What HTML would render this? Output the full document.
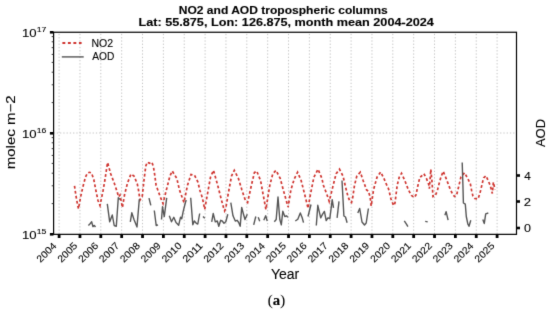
<!DOCTYPE html>
<html><head><meta charset="utf-8"><style>
html,body{margin:0;padding:0;background:#fff;}
svg{display:block;}
text{fill:#000;stroke:#000;stroke-width:0.1px;}
</style></head><body>
<svg width="550" height="313" viewBox="0 0 550 313" font-family="Liberation Sans, sans-serif">
<defs><filter id="bl" color-interpolation-filters="sRGB" x="0" y="0" width="550" height="313" filterUnits="userSpaceOnUse"><feConvolveMatrix order="3" kernelMatrix="0.0100 0.0800 0.0100 0.0800 0.6400 0.0800 0.0100 0.0800 0.0100" edgeMode="none" preserveAlpha="false"/></filter></defs>
<rect width="550" height="313" fill="#fff"/>
<g filter="url(#bl)">
<rect width="550" height="313" fill="#fff"/>
<line x1="59.10" y1="234.0" x2="59.10" y2="32.0" stroke="#bdbdbd" stroke-width="0.9" stroke-dasharray="1.3 1.96"/>
<line x1="79.96" y1="234.0" x2="79.96" y2="32.0" stroke="#bdbdbd" stroke-width="0.9" stroke-dasharray="1.3 1.96"/>
<line x1="100.81" y1="234.0" x2="100.81" y2="32.0" stroke="#bdbdbd" stroke-width="0.9" stroke-dasharray="1.3 1.96"/>
<line x1="121.67" y1="234.0" x2="121.67" y2="32.0" stroke="#bdbdbd" stroke-width="0.9" stroke-dasharray="1.3 1.96"/>
<line x1="142.53" y1="234.0" x2="142.53" y2="32.0" stroke="#bdbdbd" stroke-width="0.9" stroke-dasharray="1.3 1.96"/>
<line x1="163.38" y1="234.0" x2="163.38" y2="32.0" stroke="#bdbdbd" stroke-width="0.9" stroke-dasharray="1.3 1.96"/>
<line x1="184.24" y1="234.0" x2="184.24" y2="32.0" stroke="#bdbdbd" stroke-width="0.9" stroke-dasharray="1.3 1.96"/>
<line x1="205.10" y1="234.0" x2="205.10" y2="32.0" stroke="#bdbdbd" stroke-width="0.9" stroke-dasharray="1.3 1.96"/>
<line x1="225.96" y1="234.0" x2="225.96" y2="32.0" stroke="#bdbdbd" stroke-width="0.9" stroke-dasharray="1.3 1.96"/>
<line x1="246.81" y1="234.0" x2="246.81" y2="32.0" stroke="#bdbdbd" stroke-width="0.9" stroke-dasharray="1.3 1.96"/>
<line x1="267.67" y1="234.0" x2="267.67" y2="32.0" stroke="#bdbdbd" stroke-width="0.9" stroke-dasharray="1.3 1.96"/>
<line x1="288.53" y1="234.0" x2="288.53" y2="32.0" stroke="#bdbdbd" stroke-width="0.9" stroke-dasharray="1.3 1.96"/>
<line x1="309.38" y1="234.0" x2="309.38" y2="32.0" stroke="#bdbdbd" stroke-width="0.9" stroke-dasharray="1.3 1.96"/>
<line x1="330.24" y1="234.0" x2="330.24" y2="32.0" stroke="#bdbdbd" stroke-width="0.9" stroke-dasharray="1.3 1.96"/>
<line x1="351.10" y1="234.0" x2="351.10" y2="32.0" stroke="#bdbdbd" stroke-width="0.9" stroke-dasharray="1.3 1.96"/>
<line x1="371.96" y1="234.0" x2="371.96" y2="32.0" stroke="#bdbdbd" stroke-width="0.9" stroke-dasharray="1.3 1.96"/>
<line x1="392.81" y1="234.0" x2="392.81" y2="32.0" stroke="#bdbdbd" stroke-width="0.9" stroke-dasharray="1.3 1.96"/>
<line x1="413.67" y1="234.0" x2="413.67" y2="32.0" stroke="#bdbdbd" stroke-width="0.9" stroke-dasharray="1.3 1.96"/>
<line x1="434.53" y1="234.0" x2="434.53" y2="32.0" stroke="#bdbdbd" stroke-width="0.9" stroke-dasharray="1.3 1.96"/>
<line x1="455.38" y1="234.0" x2="455.38" y2="32.0" stroke="#bdbdbd" stroke-width="0.9" stroke-dasharray="1.3 1.96"/>
<line x1="476.24" y1="234.0" x2="476.24" y2="32.0" stroke="#bdbdbd" stroke-width="0.9" stroke-dasharray="1.3 1.96"/>
<line x1="497.10" y1="234.0" x2="497.10" y2="32.0" stroke="#bdbdbd" stroke-width="0.9" stroke-dasharray="1.3 1.96"/>
<line x1="53.5" y1="133" x2="516.5" y2="133" stroke="#bdbdbd" stroke-width="0.9" stroke-dasharray="1.3 1.96"/>
<polyline points="74.5,185.8 76,196 77.6,205 78.5,208.8 80.6,197 83,186.5 85.5,177 87.5,173 89.5,172.3 91.5,173 93.8,179.5 96,191 98,200.5 100,205.5 103,191 105,179.5 106.6,168.6 107.6,162.5 110.6,173.5 114.3,183.3 117.2,191.9 118.5,196.8 120,195 122.4,207.5 124.5,195 127.5,183 131,174 134,176 137.3,184 138.5,190 140,200 142.3,196 144,180 145.8,166 147.3,162.2 149.6,163.2 151.8,162.2 153.4,166.5 154.6,174 156.1,185.3 160.7,197.9 163,203.5 166.4,189.9 169.9,176.1 172.2,171 176.8,178.4 179.5,190 184,202.5 187.5,185.3 191,174.5 194.4,175 197.8,181.8 200.1,191 202.4,197.9 204.7,209.4 208.2,189.9 210.5,177.2 213.5,170.3 217.7,185.3 221.2,199.1 223.5,207.5 224.6,210.8 225.8,208 228.1,194.5 231.5,176.1 234.3,170.3 238.4,178.4 241.9,189.9 245.3,200.2 247.6,202.5 251.4,185.3 254.4,172.6 256.7,171 260.6,180.7 262.9,193.3 265.9,209.4 269.8,185.3 272.8,173.8 276,170.3 280.2,178.4 283.6,191 288.1,207.1 290.9,189.9 294.3,178.8 297.6,172.2 301.2,180.7 304.7,194.5 308.1,208.3 310.4,194.5 313.9,177.2 318,169.2 321.9,178.4 323.4,185.3 326.9,194.5 329.2,201.4 332.6,187.6 336.1,173.8 339.5,169.2 343,176.1 345.7,187.6 348,196.5 350,201.5 351.5,202.5 352.8,197 354.5,185.3 356.8,176.1 360.3,172.2 363.2,180.7 366.6,189.9 368.3,191 370.1,196.8 371.2,206 373.5,189.9 377,177.2 380.7,172 383.9,178.4 387.3,186.4 388.5,188.7 391,199 393.6,205.6 395,203 397.2,185.3 399.2,177.2 401.5,173.3 404.9,180.7 408.4,189.9 411.5,195.5 414.3,197.6 416,195 417.8,186 419.9,177.2 421,176.5 423.9,173.7 426.5,178.7 428.6,184 429.4,188.7 430.8,169.3 432,181.6 433,196.6 435.1,196 437.3,190.9 438.7,185.1 440.9,177.2 443.2,171.3 446.1,178.4 449.8,188.2 452.5,194 454.5,196.5 456.5,195.5 458.6,187 460.9,177.1 464.6,172.7 468.3,179.6 470.4,184 471.6,190.4 472.9,196 474.8,198.5 478,199 479.9,193.5 481.2,188 482.5,182.4 483.6,177.9 486,175.7 487.9,180 490,184.8 491.6,190.4 492.3,193.5 493.4,182.2 495,189.5" fill="none" stroke="#cf3530" stroke-width="1.7" stroke-dasharray="2.8 2.3"/>
<polyline points="88.4,225.4 90.1,223.7 91.7,221.8 92.9,226.6 94.3,225.4 95.5,227" fill="none" stroke="#555555" stroke-width="1.4" stroke-linejoin="round"/>
<polyline points="107.3,203.8 109.7,221.8 112.3,215 114.2,225.5 116.3,226.3 118.3,197.8 120,199.5" fill="none" stroke="#555555" stroke-width="1.4" stroke-linejoin="round"/>
<polyline points="130.3,221.8 131.8,212.8 134,219.5 137,227 139.3,199.3" fill="none" stroke="#555555" stroke-width="1.4" stroke-linejoin="round"/>
<polyline points="149,198.2 150.8,205.3" fill="none" stroke="#555555" stroke-width="1.4" stroke-linejoin="round"/>
<polyline points="154.3,210.5 156.2,225.5 158,224.8" fill="none" stroke="#555555" stroke-width="1.4" stroke-linejoin="round"/>
<polyline points="161.5,219.5 162.5,206.8 164.3,216.5 166.7,197.8" fill="none" stroke="#555555" stroke-width="1.4" stroke-linejoin="round"/>
<polyline points="169.3,215.8 171.5,221.8 173.8,217.3 176,222.5 178.7,225.2 180.5,217.3 181.7,218.8 183.2,211.3 185.3,203 186.2,200" fill="none" stroke="#555555" stroke-width="1.4" stroke-linejoin="round"/>
<polyline points="190.7,197.8 192.8,224.8 194.3,221 196.3,223.3 197.8,224 199.7,213.5" fill="none" stroke="#555555" stroke-width="1.4" stroke-linejoin="round"/>
<polyline points="203,216.5 204.8,218.3" fill="none" stroke="#555555" stroke-width="1.4" stroke-linejoin="round"/>
<polyline points="211.7,221.8 213.2,213.5 215.3,221.8 217.3,221 218.8,226.3 220.7,220.3 222.2,221 224,223.3 225.8,221.8 227.8,214.3" fill="none" stroke="#555555" stroke-width="1.4" stroke-linejoin="round"/>
<polyline points="230.8,202.7 233,215.8 235.3,221 237.2,220.3 238.7,222.5 240.2,226.3 241.7,207.5 243.5,214.3 245,219.5 247.3,214.3" fill="none" stroke="#555555" stroke-width="1.4" stroke-linejoin="round"/>
<polyline points="253.7,224.8 255.8,216.5" fill="none" stroke="#555555" stroke-width="1.4" stroke-linejoin="round"/>
<polyline points="258.2,217.3 259.7,221.3" fill="none" stroke="#555555" stroke-width="1.4" stroke-linejoin="round"/>
<polyline points="263.8,220.3 265.7,215.8 267.2,221" fill="none" stroke="#555555" stroke-width="1.4" stroke-linejoin="round"/>
<polyline points="274.3,221.8 276.2,219.5 278,197 279.8,219.5 281.3,224.8 282.8,211.3 284.8,216.5 286.7,215.8 287.8,217.3" fill="none" stroke="#555555" stroke-width="1.4" stroke-linejoin="round"/>
<polyline points="295.3,221 297.8,219.2 300.3,213 302.2,217.8 303.5,222.6" fill="none" stroke="#555555" stroke-width="1.4" stroke-linejoin="round"/>
<polyline points="308,216.5 309.5,210.5 311,204.5" fill="none" stroke="#555555" stroke-width="1.4" stroke-linejoin="round"/>
<polyline points="316.3,225.5 317.8,205.3 320.7,217.8 322.6,214.2 324.4,211.4 326.2,220.5 328,217.8 329.8,218.7 331.1,208.7 332.2,199.6 333.5,207.8" fill="none" stroke="#555555" stroke-width="1.4" stroke-linejoin="round"/>
<polyline points="337.1,217.8 339,201.4" fill="none" stroke="#555555" stroke-width="1.4" stroke-linejoin="round"/>
<polyline points="342,180.5 343.9,216 345.5,217 347.1,222.7" fill="none" stroke="#555555" stroke-width="1.4" stroke-linejoin="round"/>
<polyline points="357.8,213 359.7,208.5 362,222 364.5,225 366.2,223 368.4,208.5" fill="none" stroke="#555555" stroke-width="1.4" stroke-linejoin="round"/>
<polyline points="404.3,220.9 406.6,224.4 407.9,226.7" fill="none" stroke="#555555" stroke-width="1.4" stroke-linejoin="round"/>
<polyline points="425.2,221.4 427.7,221.9" fill="none" stroke="#555555" stroke-width="1.4" stroke-linejoin="round"/>
<polyline points="444.9,215.3 446.1,211.6 448.1,220.2" fill="none" stroke="#555555" stroke-width="1.4" stroke-linejoin="round"/>
<polyline points="462.2,162.4 462.9,184.5 463.4,203 465.3,204.2 466.3,216.5 467.8,223.9 469,226.3 470.8,220.2" fill="none" stroke="#555555" stroke-width="1.4" stroke-linejoin="round"/>
<polyline points="482.8,219.5 484.3,223.5 485.7,213.8 488.3,213" fill="none" stroke="#555555" stroke-width="1.4" stroke-linejoin="round"/>
<rect x="53.6" y="32.25" width="462.9" height="202.1" fill="none" stroke="#000" stroke-width="1.2"/>
<line x1="59.10" y1="234.0" x2="59.10" y2="238.0" stroke="#000" stroke-width="2.8"/>
<line x1="79.96" y1="234.0" x2="79.96" y2="238.0" stroke="#000" stroke-width="2.8"/>
<line x1="100.81" y1="234.0" x2="100.81" y2="238.0" stroke="#000" stroke-width="2.8"/>
<line x1="121.67" y1="234.0" x2="121.67" y2="238.0" stroke="#000" stroke-width="2.8"/>
<line x1="142.53" y1="234.0" x2="142.53" y2="238.0" stroke="#000" stroke-width="2.8"/>
<line x1="163.38" y1="234.0" x2="163.38" y2="238.0" stroke="#000" stroke-width="2.8"/>
<line x1="184.24" y1="234.0" x2="184.24" y2="238.0" stroke="#000" stroke-width="2.8"/>
<line x1="205.10" y1="234.0" x2="205.10" y2="238.0" stroke="#000" stroke-width="2.8"/>
<line x1="225.96" y1="234.0" x2="225.96" y2="238.0" stroke="#000" stroke-width="2.8"/>
<line x1="246.81" y1="234.0" x2="246.81" y2="238.0" stroke="#000" stroke-width="2.8"/>
<line x1="267.67" y1="234.0" x2="267.67" y2="238.0" stroke="#000" stroke-width="2.8"/>
<line x1="288.53" y1="234.0" x2="288.53" y2="238.0" stroke="#000" stroke-width="2.8"/>
<line x1="309.38" y1="234.0" x2="309.38" y2="238.0" stroke="#000" stroke-width="2.8"/>
<line x1="330.24" y1="234.0" x2="330.24" y2="238.0" stroke="#000" stroke-width="2.8"/>
<line x1="351.10" y1="234.0" x2="351.10" y2="238.0" stroke="#000" stroke-width="2.8"/>
<line x1="371.96" y1="234.0" x2="371.96" y2="238.0" stroke="#000" stroke-width="2.8"/>
<line x1="392.81" y1="234.0" x2="392.81" y2="238.0" stroke="#000" stroke-width="2.8"/>
<line x1="413.67" y1="234.0" x2="413.67" y2="238.0" stroke="#000" stroke-width="2.8"/>
<line x1="434.53" y1="234.0" x2="434.53" y2="238.0" stroke="#000" stroke-width="2.8"/>
<line x1="455.38" y1="234.0" x2="455.38" y2="238.0" stroke="#000" stroke-width="2.8"/>
<line x1="476.24" y1="234.0" x2="476.24" y2="238.0" stroke="#000" stroke-width="2.8"/>
<line x1="497.10" y1="234.0" x2="497.10" y2="238.0" stroke="#000" stroke-width="2.8"/>
<line x1="53.5" y1="234.3" x2="49.9" y2="234.3" stroke="#000" stroke-width="2.6"/>
<line x1="53.5" y1="133.3" x2="49.9" y2="133.3" stroke="#000" stroke-width="2.6"/>
<line x1="53.5" y1="32.3" x2="49.9" y2="32.3" stroke="#000" stroke-width="2.6"/>
<line x1="53.5" y1="203.60" x2="51.7" y2="203.60" stroke="#222" stroke-width="0.9"/>
<line x1="53.5" y1="185.81" x2="51.7" y2="185.81" stroke="#222" stroke-width="0.9"/>
<line x1="53.5" y1="173.19" x2="51.7" y2="173.19" stroke="#222" stroke-width="0.9"/>
<line x1="53.5" y1="163.40" x2="51.7" y2="163.40" stroke="#222" stroke-width="0.9"/>
<line x1="53.5" y1="155.41" x2="51.7" y2="155.41" stroke="#222" stroke-width="0.9"/>
<line x1="53.5" y1="148.65" x2="51.7" y2="148.65" stroke="#222" stroke-width="0.9"/>
<line x1="53.5" y1="142.79" x2="51.7" y2="142.79" stroke="#222" stroke-width="0.9"/>
<line x1="53.5" y1="137.62" x2="51.7" y2="137.62" stroke="#222" stroke-width="0.9"/>
<line x1="53.5" y1="102.60" x2="51.7" y2="102.60" stroke="#222" stroke-width="0.9"/>
<line x1="53.5" y1="84.81" x2="51.7" y2="84.81" stroke="#222" stroke-width="0.9"/>
<line x1="53.5" y1="72.19" x2="51.7" y2="72.19" stroke="#222" stroke-width="0.9"/>
<line x1="53.5" y1="62.40" x2="51.7" y2="62.40" stroke="#222" stroke-width="0.9"/>
<line x1="53.5" y1="54.41" x2="51.7" y2="54.41" stroke="#222" stroke-width="0.9"/>
<line x1="53.5" y1="47.65" x2="51.7" y2="47.65" stroke="#222" stroke-width="0.9"/>
<line x1="53.5" y1="41.79" x2="51.7" y2="41.79" stroke="#222" stroke-width="0.9"/>
<line x1="53.5" y1="36.62" x2="51.7" y2="36.62" stroke="#222" stroke-width="0.9"/>
<line x1="516.5" y1="228" x2="520.0" y2="228" stroke="#000" stroke-width="2.6"/>
<line x1="516.5" y1="201.5" x2="520.0" y2="201.5" stroke="#000" stroke-width="2.6"/>
<line x1="516.5" y1="175.5" x2="520.0" y2="175.5" stroke="#000" stroke-width="2.6"/>
<line x1="62.4" y1="43" x2="81.6" y2="43" stroke="#cf3530" stroke-width="1.8" stroke-dasharray="2.9 2.6"/>
<line x1="61.8" y1="56.9" x2="83.7" y2="56.9" stroke="#555555" stroke-width="1.4"/>
<text transform="translate(178.76,14.00) scale(1.1890,1)" font-family="Liberation Sans" font-weight="bold" font-size="10.14">NO2 and AOD tropospheric columns</text>
<text transform="translate(138.51,25.60) scale(1.2335,1)" font-family="Liberation Sans" font-weight="bold" font-size="10.27">Lat: 55.875, Lon: 126.875, month mean 2004-2024</text>
<text transform="translate(21.95,238.68) scale(1.1099,1)" font-family="Liberation Sans" font-weight="normal" font-size="11.83">10</text>
<text transform="translate(36.71,234.02) scale(1.0859,1)" font-family="Liberation Sans" font-weight="normal" font-size="8.00">15</text>
<text transform="translate(21.95,137.68) scale(1.1099,1)" font-family="Liberation Sans" font-weight="normal" font-size="11.83">10</text>
<text transform="translate(36.71,133.02) scale(1.1014,1)" font-family="Liberation Sans" font-weight="normal" font-size="7.89">16</text>
<text transform="translate(21.95,36.68) scale(1.1099,1)" font-family="Liberation Sans" font-weight="normal" font-size="11.83">10</text>
<text transform="translate(36.70,32.10) scale(1.0813,1)" font-family="Liberation Sans" font-weight="normal" font-size="8.12">17</text>
<text transform="translate(523.90,232.09) scale(1.1378,1)" font-family="Liberation Sans" font-weight="normal" font-size="10.99">0</text>
<text transform="translate(523.75,205.70) scale(1.1706,1)" font-family="Liberation Sans" font-weight="normal" font-size="11.14">2</text>
<text transform="translate(524.16,179.81) scale(1.0256,1)" font-family="Liberation Sans" font-weight="normal" font-size="11.47">4</text>
<text transform="translate(270.98,278.86) scale(1.0110,1)" font-family="Liberation Sans" font-weight="normal" font-size="13.86">Year</text>
<text transform="translate(267.81,305.12) scale(1.0101,1)" font-family="Liberation Serif" font-weight="normal" font-size="14.67" stroke="none">(<tspan font-weight="bold">a</tspan>)</text>
<text transform="translate(91.46,46.50) scale(1.0160,1)" font-family="Liberation Sans" font-weight="normal" font-size="10.35">NO2</text>
<text transform="translate(92.30,60.10) scale(0.9978,1)" font-family="Liberation Sans" font-weight="normal" font-size="10.21">AOD</text>
<text transform="translate(14.98,169.35) rotate(-90) scale(1.2115,1)" font-family="Liberation Sans" font-weight="normal" font-size="12.43">molec m−2</text>
<text transform="translate(544.97,147.00) rotate(-90) scale(1.0196,1)" font-family="Liberation Sans" font-weight="normal" font-size="12.68">AOD</text>
<text transform="translate(40.55,263.06) rotate(-45) scale(1.0664,1)" font-family="Liberation Sans" font-weight="normal" font-size="9.86">2004</text>
<text transform="translate(61.40,263.06) rotate(-45) scale(1.0714,1)" font-family="Liberation Sans" font-weight="normal" font-size="9.86">2005</text>
<text transform="translate(82.26,263.06) rotate(-45) scale(1.0714,1)" font-family="Liberation Sans" font-weight="normal" font-size="9.86">2006</text>
<text transform="translate(103.12,263.07) rotate(-45) scale(1.0765,1)" font-family="Liberation Sans" font-weight="normal" font-size="9.86">2007</text>
<text transform="translate(123.97,263.06) rotate(-45) scale(1.0714,1)" font-family="Liberation Sans" font-weight="normal" font-size="9.86">2008</text>
<text transform="translate(144.83,263.06) rotate(-45) scale(1.0714,1)" font-family="Liberation Sans" font-weight="normal" font-size="9.86">2009</text>
<text transform="translate(165.69,263.06) rotate(-45) scale(1.0714,1)" font-family="Liberation Sans" font-weight="normal" font-size="9.86">2010</text>
<text transform="translate(186.53,263.08) rotate(-45) scale(1.1132,1)" font-family="Liberation Sans" font-weight="normal" font-size="9.86">2011</text>
<text transform="translate(207.40,263.07) rotate(-45) scale(1.0765,1)" font-family="Liberation Sans" font-weight="normal" font-size="9.86">2012</text>
<text transform="translate(228.26,263.06) rotate(-45) scale(1.0714,1)" font-family="Liberation Sans" font-weight="normal" font-size="9.86">2013</text>
<text transform="translate(249.12,263.06) rotate(-45) scale(1.0664,1)" font-family="Liberation Sans" font-weight="normal" font-size="9.86">2014</text>
<text transform="translate(269.97,263.06) rotate(-45) scale(1.0714,1)" font-family="Liberation Sans" font-weight="normal" font-size="9.86">2015</text>
<text transform="translate(290.83,263.06) rotate(-45) scale(1.0714,1)" font-family="Liberation Sans" font-weight="normal" font-size="9.86">2016</text>
<text transform="translate(311.69,263.07) rotate(-45) scale(1.0765,1)" font-family="Liberation Sans" font-weight="normal" font-size="9.86">2017</text>
<text transform="translate(332.54,263.06) rotate(-45) scale(1.0714,1)" font-family="Liberation Sans" font-weight="normal" font-size="9.86">2018</text>
<text transform="translate(353.40,263.06) rotate(-45) scale(1.0714,1)" font-family="Liberation Sans" font-weight="normal" font-size="9.86">2019</text>
<text transform="translate(374.26,263.06) rotate(-45) scale(1.0714,1)" font-family="Liberation Sans" font-weight="normal" font-size="9.86">2020</text>
<text transform="translate(395.11,263.07) rotate(-45) scale(1.0765,1)" font-family="Liberation Sans" font-weight="normal" font-size="9.86">2021</text>
<text transform="translate(415.97,263.07) rotate(-45) scale(1.0765,1)" font-family="Liberation Sans" font-weight="normal" font-size="9.86">2022</text>
<text transform="translate(436.83,263.06) rotate(-45) scale(1.0714,1)" font-family="Liberation Sans" font-weight="normal" font-size="9.86">2023</text>
<text transform="translate(457.69,263.06) rotate(-45) scale(1.0664,1)" font-family="Liberation Sans" font-weight="normal" font-size="9.86">2024</text>
<text transform="translate(478.54,263.06) rotate(-45) scale(1.0714,1)" font-family="Liberation Sans" font-weight="normal" font-size="9.86">2025</text>
</g>
</svg>
</body></html>
